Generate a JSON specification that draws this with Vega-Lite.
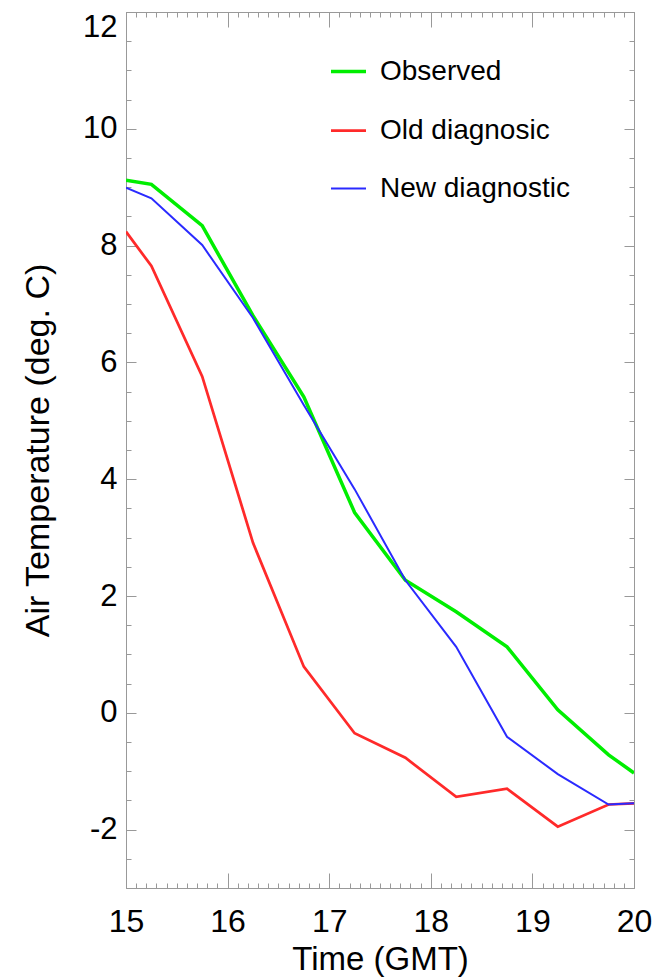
{
  "$schema": "https://vega.github.io/schema/vega-lite/v6.json",
  "width": 508,
  "height": 876,
  "autosize": "none",
  "padding": {"left": 126, "top": 12, "right": 35, "bottom": 90},
  "background": "white",
  "config": {
    "font": "Liberation Sans",
    "view": {"stroke": "#999999", "strokeWidth": 1},
    "axis": {"grid": false, "domain": false, "tickColor": "#999999", "tickWidth": 1, "labelColor": "black", "titleColor": "black", "titleFontWeight": "normal"}
  },
  "data": {
    "values": [
      {"t": 15.0, "v": 9.12, "s": "Observed"},
      {"t": 15.25, "v": 9.05, "s": "Observed"},
      {"t": 15.75, "v": 8.34, "s": "Observed"},
      {"t": 16.25, "v": 6.80, "s": "Observed"},
      {"t": 16.75, "v": 5.41, "s": "Observed"},
      {"t": 17.25, "v": 3.43, "s": "Observed"},
      {"t": 17.75, "v": 2.27, "s": "Observed"},
      {"t": 18.25, "v": 1.73, "s": "Observed"},
      {"t": 18.75, "v": 1.13, "s": "Observed"},
      {"t": 19.25, "v": 0.05, "s": "Observed"},
      {"t": 19.75, "v": -0.72, "s": "Observed"},
      {"t": 20.0, "v": -1.03, "s": "Observed"},
      {"t": 15.0, "v": 8.24, "s": "Old diagnosic"},
      {"t": 15.25, "v": 7.65, "s": "Old diagnosic"},
      {"t": 15.75, "v": 5.76, "s": "Old diagnosic"},
      {"t": 16.25, "v": 2.91, "s": "Old diagnosic"},
      {"t": 16.75, "v": 0.79, "s": "Old diagnosic"},
      {"t": 17.25, "v": -0.35, "s": "Old diagnosic"},
      {"t": 17.75, "v": -0.77, "s": "Old diagnosic"},
      {"t": 18.25, "v": -1.44, "s": "Old diagnosic"},
      {"t": 18.75, "v": -1.30, "s": "Old diagnosic"},
      {"t": 19.25, "v": -1.95, "s": "Old diagnosic"},
      {"t": 19.75, "v": -1.57, "s": "Old diagnosic"},
      {"t": 20.0, "v": -1.55, "s": "Old diagnosic"},
      {"t": 15.0, "v": 8.99, "s": "New diagnostic"},
      {"t": 15.25, "v": 8.81, "s": "New diagnostic"},
      {"t": 15.75, "v": 8.01, "s": "New diagnostic"},
      {"t": 16.25, "v": 6.76, "s": "New diagnostic"},
      {"t": 16.75, "v": 5.27, "s": "New diagnostic"},
      {"t": 17.25, "v": 3.83, "s": "New diagnostic"},
      {"t": 17.75, "v": 2.27, "s": "New diagnostic"},
      {"t": 18.25, "v": 1.13, "s": "New diagnostic"},
      {"t": 18.75, "v": -0.41, "s": "New diagnostic"},
      {"t": 19.25, "v": -1.05, "s": "New diagnostic"},
      {"t": 19.75, "v": -1.57, "s": "New diagnostic"},
      {"t": 20.0, "v": -1.55, "s": "New diagnostic"}
    ]
  },
  "layer": [
    {
      "mark": {"type": "line", "clip": true},
      "encoding": {
        "x": {
          "field": "t", "type": "quantitative",
          "scale": {"domain": [15, 20], "nice": false, "zero": false},
          "axis": {
            "orient": "bottom",
            "values": [15, 16, 17, 18, 19, 20],
            "labelExpr": "'' + round(datum.value)",
            "offset": -15,
            "tickSize": 15,
            "labelPadding": 18,
            "labelFlush": false,
            "labelOverlap": false,
            "labelFontSize": 32,
            "title": "Time (GMT)",
            "titleFontSize": 33,
            "titlePadding": 6
          }
        },
        "y": {
          "field": "v", "type": "quantitative",
          "scale": {"domain": [-3, 12], "nice": false, "zero": false},
          "axis": {
            "orient": "left",
            "values": [-2, 0, 2, 4, 6, 8, 10, 12],
            "labelExpr": "'' + round(datum.value)",
            "labelBaseline": {"condition": {"test": "datum.value === 12", "value": "top"}, "value": "middle"},
            "offset": -10,
            "tickSize": 10,
            "labelPadding": 9,
            "labelFlush": false,
            "labelOverlap": false,
            "labelFontSize": 31,
            "title": "Air Temperature (deg. C)",
            "titleFontSize": 34,
            "titlePadding": 27
          }
        },
        "color": {
          "field": "s", "type": "nominal",
          "scale": {"domain": ["Observed", "Old diagnosic", "New diagnostic"], "range": ["#00ee00", "#ff2a2a", "#2a2aff"]},
          "legend": {
            "orient": "none", "legendX": 203, "legendY": 40,
            "title": null, "symbolType": "stroke", "symbolSize": 1225, "symbolStrokeWidth": 3,
            "labelFontSize": 28, "labelOffset": 12, "rowPadding": 25.5, "padding": 0, "labelLimit": 400, "labelColor": "black"
          }
        },
        "strokeWidth": {
          "field": "s", "type": "nominal",
          "scale": {"domain": ["Observed", "Old diagnosic", "New diagnostic"], "range": [3.5, 2, 2.2]},
          "legend": null
        }
      }
    },
    {
      "mark": {"type": "line", "opacity": 0},
      "encoding": {
        "x": {
          "field": "t", "type": "quantitative",
          "axis": {
            "orient": "bottom",
            "values": [15,15.1,15.2,15.3,15.4,15.5,15.6,15.7,15.8,15.9,16,16.1,16.2,16.3,16.4,16.5,16.6,16.7,16.8,16.9,17,17.1,17.2,17.3,17.4,17.5,17.6,17.7,17.8,17.9,18,18.1,18.2,18.3,18.4,18.5,18.6,18.7,18.8,18.9,19,19.1,19.2,19.3,19.4,19.5,19.6,19.7,19.8,19.9,20],
            "labels": false, "title": null, "offset": -5, "tickSize": 5
          }
        },
        "y": {
          "field": "v", "type": "quantitative",
          "axis": {
            "orient": "left",
            "values": [-3,-2.5,-2,-1.5,-1,-0.5,0,0.5,1,1.5,2,2.5,3,3.5,4,4.5,5,5.5,6,6.5,7,7.5,8,8.5,9,9.5,10,10.5,11,11.5,12],
            "labels": false, "title": null, "offset": -5, "tickSize": 5
          }
        },
        "detail": {"field": "s", "type": "nominal"}
      }
    },
    {
      "mark": {"type": "line", "opacity": 0},
      "encoding": {
        "x": {
          "field": "t", "type": "quantitative",
          "axis": {
            "orient": "top",
            "values": [15, 16, 17, 18, 19, 20],
            "labels": false, "title": null, "offset": -15, "tickSize": 15
          }
        },
        "y": {
          "field": "v", "type": "quantitative",
          "axis": {
            "orient": "right",
            "values": [-2, 0, 2, 4, 6, 8, 10, 12],
            "labels": false, "title": null, "offset": -10, "tickSize": 10
          }
        },
        "detail": {"field": "s", "type": "nominal"}
      }
    },
    {
      "mark": {"type": "line", "opacity": 0},
      "encoding": {
        "x": {
          "field": "t", "type": "quantitative",
          "axis": {
            "orient": "top",
            "values": [15,15.1,15.2,15.3,15.4,15.5,15.6,15.7,15.8,15.9,16,16.1,16.2,16.3,16.4,16.5,16.6,16.7,16.8,16.9,17,17.1,17.2,17.3,17.4,17.5,17.6,17.7,17.8,17.9,18,18.1,18.2,18.3,18.4,18.5,18.6,18.7,18.8,18.9,19,19.1,19.2,19.3,19.4,19.5,19.6,19.7,19.8,19.9,20],
            "labels": false, "title": null, "offset": -5, "tickSize": 5
          }
        },
        "y": {
          "field": "v", "type": "quantitative",
          "axis": {
            "orient": "right",
            "values": [-3,-2.5,-2,-1.5,-1,-0.5,0,0.5,1,1.5,2,2.5,3,3.5,4,4.5,5,5.5,6,6.5,7,7.5,8,8.5,9,9.5,10,10.5,11,11.5,12],
            "labels": false, "title": null, "offset": -5, "tickSize": 5
          }
        },
        "detail": {"field": "s", "type": "nominal"}
      }
    }
  ],
  "resolve": {"axis": {"x": "independent", "y": "independent"}}
}
